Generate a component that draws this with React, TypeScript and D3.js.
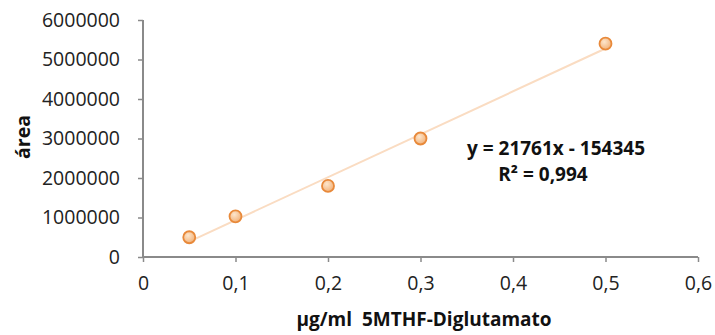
import { useEffect, useRef } from "react"
import * as d3 from "d3"

// concentration (µg/ml) and measured area
const concentrations = [0.05, 0.1, 0.2, 0.3, 0.5]
const areas = [500000, 1030000, 1800000, 3000000, 5400000]
const xTicks = [0, 0.1, 0.2, 0.3, 0.4, 0.5, 0.6]
const yTicks = [0, 1000000, 2000000, 3000000, 4000000, 5000000, 6000000]
const equationLabel = "y = 21761x - 154345"
const r2Label = "R² = 0,994"

export default function App() {
  const svgRef = useRef<SVGSVGElement>(null)

  useEffect(() => {
    if (!svgRef.current) return
    d3.select(svgRef.current).selectAll("*").remove()

    const width = 715
    const height = 335
    const margin = { top: 20, right: 17, bottom: 78, left: 143 }
    const font = "'Open Sans', 'DejaVu Sans', sans-serif"
    const axisColor = "#8a8a8a"

    const svg = d3.select(svgRef.current).attr("width", width).attr("height", height)

    const x = d3.scaleLinear().domain([0, 0.6]).range([margin.left, width - margin.right])
    const y = d3.scaleLinear().domain([0, 6000000]).range([height - margin.bottom, margin.top])

    // Линия тренда (линейная регрессия)
    const n = concentrations.length
    const mx = d3.mean(concentrations) || 0
    const my = d3.mean(areas) || 0
    let sxy = 0
    let sxx = 0
    concentrations.forEach((c, i) => {
      sxy += (c - mx) * (areas[i] - my)
      sxx += (c - mx) * (c - mx)
    })
    const slope = n > 1 ? sxy / sxx : 0
    const intercept = my - slope * mx
    const xMin = d3.min(concentrations) || 0
    const xMax = d3.max(concentrations) || 0

    svg
      .append("line")
      .attr("x1", x(xMin))
      .attr("y1", y(slope * xMin + intercept))
      .attr("x2", x(xMax))
      .attr("y2", y(slope * xMax + intercept))
      .attr("stroke", "#fadcc2")
      .attr("stroke-width", 2)

    // Оси
    const xAxis = svg
      .append("g")
      .attr("transform", `translate(0,${y(0)})`)
      .call(
        d3
          .axisBottom(x)
          .tickValues(xTicks)
          .tickSize(5)
          .tickPadding(14)
          .tickFormat((d) => (d === 0 ? "0" : d3.format(".1f")(d as number).replace(".", ","))),
      )
    xAxis.select(".domain").attr("stroke", axisColor).attr("stroke-width", 2).attr("d", `M${x(0)},0H${x(0.6)}`)
    xAxis.selectAll(".tick line").attr("stroke", axisColor).attr("stroke-width", 1.5)
    xAxis
      .selectAll(".tick text")
      .attr("fill", "#222")
      .style("font-family", font)
      .style("font-size", "19.5px")

    const yAxis = svg
      .append("g")
      .attr("transform", `translate(${x(0)},0)`)
      .call(d3.axisLeft(y).tickValues(yTicks).tickSize(5).tickPadding(18).tickFormat(d3.format("d")))
    yAxis.select(".domain").attr("stroke", axisColor).attr("stroke-width", 2).attr("d", `M0,${y(0)}V${y(6000000)}`)
    yAxis.selectAll(".tick line").attr("stroke", axisColor).attr("stroke-width", 1.5)
    yAxis
      .selectAll(".tick text")
      .attr("fill", "#222")
      .style("font-family", font)
      .style("font-size", "19.5px")

    // Точки
    const defs = svg.append("defs")
    const grad = defs.append("radialGradient").attr("id", "pt").attr("cx", "40%").attr("cy", "35%").attr("r", "65%")
    grad.append("stop").attr("offset", "0%").attr("stop-color", "#fde6cc")
    grad.append("stop").attr("offset", "100%").attr("stop-color", "#f2b27a")

    svg
      .selectAll(".pt")
      .data(concentrations)
      .enter()
      .append("circle")
      .attr("class", "pt")
      .attr("cx", (d) => x(d))
      .attr("cy", (_d, i) => y(areas[i]))
      .attr("r", 6)
      .attr("fill", "url(#pt)")
      .attr("stroke", "#e8893a")
      .attr("stroke-width", 1.8)

    // Уравнение
    svg
      .append("text")
      .attr("x", 556)
      .attr("y", 155)
      .attr("text-anchor", "middle")
      .style("font-family", font)
      .style("font-weight", "bold")
      .style("font-size", "19px")
      .attr("fill", "#111")
      .text(equationLabel)

    svg
      .append("text")
      .attr("x", 543)
      .attr("y", 181)
      .attr("text-anchor", "middle")
      .style("font-family", font)
      .style("font-weight", "bold")
      .style("font-size", "19px")
      .attr("fill", "#111")
      .text(r2Label)

    // Подписи осей
    svg
      .append("text")
      .attr("x", 424)
      .attr("y", 326)
      .attr("text-anchor", "middle")
      .style("font-family", font)
      .style("font-weight", "bold")
      .style("font-size", "19px")
      .attr("fill", "#111")
      .attr("xml:space", "preserve")
      .text("µg/ml  5MTHF-Diglutamato")

    svg
      .append("text")
      .attr("transform", `translate(30,${137}) rotate(-90)`)
      .attr("text-anchor", "middle")
      .style("font-family", font)
      .style("font-weight", "bold")
      .style("font-size", "19.5px")
      .attr("fill", "#111")
      .text("área")
  }, [])

  return (
    <div style={{ position: "absolute", left: 0, top: 0 }}>
      <svg ref={svgRef} style={{ display: "block", background: "#fff" }} />
    </div>
  )
}
